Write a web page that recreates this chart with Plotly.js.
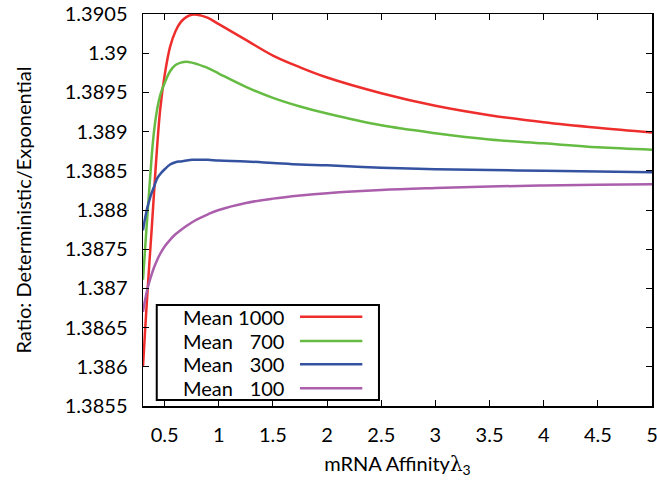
<!DOCTYPE html>
<html>
<head>
<meta charset="utf-8">
<script src="https://cdn.plot.ly/plotly-3.0.1.min.js"></script>
<style>html,body{margin:0;padding:0;background:#fff;}#chart{width:657px;height:482px;}</style>
</head>
<body>
<div id="chart"></div>
<script>
// Data
const xAffinity = [0.3, 0.32, 0.34, 0.36, 0.38, 0.4, 0.43, 0.46, 0.5, 0.55, 0.6, 0.65, 0.7, 0.75, 0.8, 0.9, 1.0, 1.25, 1.5, 1.75, 2.0, 2.5, 3.0, 3.5, 4.0, 4.5, 5.0];
const means = [1000, 700, 300, 100];
const ratioMean1000 = [1.38600, 1.38648, 1.38692, 1.38735, 1.38775, 1.38818, 1.38880, 1.38930, 1.38972, 1.39008, 1.39028, 1.39040, 1.39046, 1.39049, 1.39049, 1.39045, 1.39037, 1.39017, 1.38997, 1.38982, 1.38969, 1.38949, 1.38933, 1.38921, 1.38912, 1.38905, 1.38899];
const ratioMean700 = [1.38711, 1.38752, 1.38792, 1.38830, 1.38868, 1.38898, 1.38928, 1.38947, 1.38962, 1.38977, 1.38985, 1.38988, 1.38989, 1.38988, 1.38986, 1.38981, 1.38974, 1.38957, 1.38943, 1.38932, 1.38923, 1.38908, 1.38898, 1.38890, 1.38885, 1.38880, 1.38877];
const ratioMean300 = [1.38774, 1.38790, 1.38803, 1.38813, 1.38822, 1.38829, 1.38840, 1.38846, 1.38852, 1.38858, 1.38861, 1.38862, 1.38863, 1.38864, 1.38864, 1.38864, 1.38863, 1.38862, 1.38860, 1.38858, 1.38857, 1.38854, 1.38852, 1.38851, 1.38850, 1.38849, 1.38848];
const ratioMean100 = [1.386700, 1.386860, 1.386990, 1.387090, 1.387180, 1.387260, 1.387360, 1.387445, 1.387535, 1.387620, 1.387690, 1.387745, 1.387795, 1.387840, 1.387880, 1.387945, 1.388000, 1.388090, 1.388145, 1.388185, 1.388215, 1.388255, 1.388280, 1.388300, 1.388313, 1.388323, 1.388330];
const seriesValues = [ratioMean1000, ratioMean700, ratioMean300, ratioMean100];
const colors = ['rgb(238,46,44)', 'rgb(102,188,66)', 'rgb(52,82,160)', 'rgb(170,94,172)'];

const FONT = 'Lato, Open Sans, sans-serif';
const traces = seriesValues.map((ys, i) => ({
  x: xAffinity, y: ys, type: 'scatter', mode: 'lines',
  name: 'Mean ' + means[i],
  line: {color: colors[i], width: 2.5, shape: 'spline', smoothing: 1},
  showlegend: false, cliponaxis: true
}));

// custom gnuplot-style legend (text on the left, line sample on the right)
const legRowsY = [0.2278, 0.1658, 0.1064, 0.0451];
const annotations = [];
const shapes = [{type: 'rect', xref: 'paper', yref: 'paper', x0: 0.027, x1: 0.4636, y0: 0.0153, y1: 0.2577,
  line: {color: 'black', width: 2}, fillcolor: 'white', layer: 'above'}];
means.forEach((m, i) => {
  const num = String(m);
  const label = 'Mean\u00A0' + '\u2007'.repeat(4 - num.length) + num;
  annotations.push({xref: 'paper', yref: 'paper', x: 0.279, y: legRowsY[i], text: label, showarrow: false,
    xanchor: 'right', yanchor: 'middle', borderpad: 0,
    font: {family: FONT, size: 20, color: 'black'}});
  shapes.push({type: 'line', xref: 'paper', yref: 'paper', x0: 0.3084, x1: 0.4309, y0: legRowsY[i], y1: legRowsY[i],
    line: {color: colors[i], width: 2.5}, layer: 'above'});
});

const layout = {
  width: 657, height: 482,
  margin: {l: 143, r: 5, t: 14, b: 76},
  paper_bgcolor: 'white', plot_bgcolor: 'white',
  font: {family: FONT, size: 20, color: 'black'},
  showlegend: false,
  xaxis: {
    range: [0.3, 5], tick0: 0.5, dtick: 0.5,
    showgrid: false, zeroline: false,
    showline: true, linecolor: 'black', linewidth: 1.5, mirror: 'allticks',
    ticks: 'inside', ticklen: 6, tickwidth: 1, tickcolor: 'black',
    ticklabelstandoff: 10, ticklabeloverflow: 'allow',
    tickfont: {family: FONT, size: 20, color: 'black'},
    title: {text: 'mRNA Affinity<span style="font-family:DejaVu Serif">λ</span><sub>3</sub>', standoff: 12,
      font: {family: FONT, size: 20, color: 'black'}}
  },
  yaxis: {
    range: [1.3855, 1.3905], tick0: 1.3855, dtick: 0.0005,
    showgrid: false, zeroline: false,
    showline: true, linecolor: 'black', linewidth: 1.5, mirror: 'allticks',
    ticks: 'inside', ticklen: 6, tickwidth: 1, tickcolor: 'black',
    ticklabelstandoff: 10, ticklabeloverflow: 'allow',
    tickfont: {family: FONT, size: 20, color: 'black'},
    title: {text: 'Ratio: Deterministic/Exponential', standoff: 28,
      font: {family: FONT, size: 20, color: 'black'}}
  },
  annotations: annotations,
  shapes: shapes
};

Plotly.newPlot('chart', traces, layout, {displayModeBar: false, staticPlot: true});
</script>
</body>
</html>
